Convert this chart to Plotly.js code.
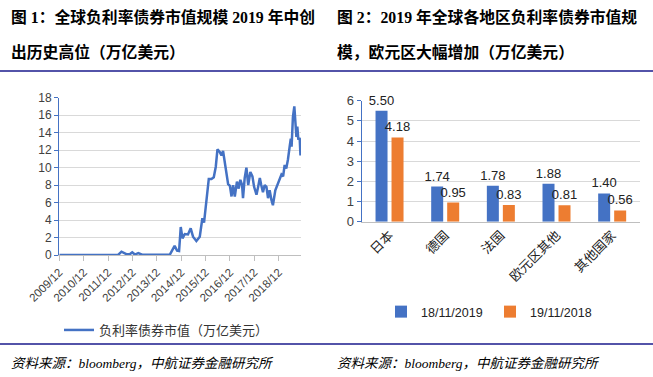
<!DOCTYPE html>
<html>
<head>
<meta charset="utf-8">
<script src="https://cdn.plot.ly/plotly-3.0.1.min.js"></script>
<style>
html,body{margin:0;padding:0;background:#fff;}
#chart{width:653px;height:377px;}
</style>
</head>
<body>
<div id="chart"></div>
<script>
// ---- Left chart data: negative-yield bond market value (trillion USD) ----
const lineDates = [
  "2009-12-01","2010-06-01","2011-01-01","2011-12-01","2012-04-30","2012-06-20","2012-09-01","2012-10-20",
  "2012-11-28","2013-01-06","2013-02-27","2013-04-25","2013-12-01","2014-06-13","2014-08-25","2014-10-01",
  "2014-10-31","2014-11-25","2014-12-21","2015-01-25","2015-03-13","2015-04-23","2015-05-28","2015-07-17",
  "2015-09-06","2015-10-15","2015-11-09","2015-12-15","2016-01-19","2016-02-28","2016-04-03","2016-05-03",
  "2016-05-28","2016-07-01","2016-07-27","2016-08-20","2016-10-10","2016-11-04","2016-12-01","2016-12-25",
  "2017-01-18","2017-02-12","2017-03-16","2017-04-12","2017-05-06","2017-06-01","2017-06-15","2017-07-10",
  "2017-08-05","2017-09-01","2017-10-03","2017-11-03","2017-11-28","2018-01-03","2018-01-28","2018-02-22",
  "2018-03-15","2018-04-10","2018-05-06","2018-06-01","2018-06-25","2018-07-19","2018-08-15","2018-09-06",
  "2018-10-12","2018-11-21","2018-12-15","2019-01-12","2019-02-06","2019-03-01","2019-03-25","2019-04-19",
  "2019-05-15","2019-06-01","2019-06-13","2019-07-03","2019-07-24","2019-08-12","2019-08-24","2019-09-07",
  "2019-09-22","2019-10-12","2019-10-24","2019-11-01"
];
const lineValues = [
  0,0,0,0,0,0.38,0.1,0.08,
  0.3,0.05,0.22,0.03,0,0.02,1.05,0.5,
  0.45,3.2,1.9,2.4,2.35,3.05,2.1,1.6,
  2.1,4.2,3.7,6.3,8.7,8.7,8.9,10.1,
  12.1,11.8,11.4,11.9,9.3,8.1,7.9,6.7,
  8.0,6.7,8.4,7.6,8.6,8.0,6.5,8.8,
  10.0,8.0,9.5,9.0,7.8,6.9,7.8,8.8,
  8.0,7.2,8.0,7.8,6.5,7.4,6.3,5.7,
  7.4,8.2,8.8,9.2,9.0,10.3,9.9,10.9,
  12.4,13.3,12.4,15.8,17.0,15.3,13.5,14.7,
  13.2,13.4,11.4,12.1
];
const lineName = "负利率债券市值（万亿美元）";

// ---- Right chart data ----
const regions = ["日本","德国","法国","欧元区其他","其他国家"];
const values2019 = [5.50, 1.74, 1.78, 1.88, 1.40];
const values2018 = [4.18, 0.95, 0.83, 0.81, 0.56];
const name2019 = "18/11/2019";
const name2018 = "19/11/2018";

// ---- Text ----
const titleLeft1 = "图 1：全球负利率债券市值规模 2019 年中创";
const titleLeft2 = "出历史高位（万亿美元）";
const titleRight1 = "图 2：2019 年全球各地区负利率债券市值规";
const titleRight2 = "模，欧元区大幅增加（万亿美元）";
const sourceText = "资料来源：bloomberg，中航证券金融研究所";

const W = 653, H = 377;
const px = v => v / W;
const py = v => 1 - v / H;

const BLUE = "#4472C4", ORANGE = "#ED7D31";
const tickFont = {family: "Liberation Sans, Arial, sans-serif", size: 12, color: "#404040"};
const cjkFont = "Noto Sans CJK SC, sans-serif";
const titleFont = {family: "Liberation Serif, Noto Sans CJK SC, serif", size: 15.8, color: "#000", weight: "bold"};
const srcFont = {family: "Liberation Serif, Noto Sans CJK SC, serif", size: 13.5, color: "#000", style: "italic"};
const barTextFont = {family: "Liberation Sans, Arial, sans-serif", size: 13, color: "#222"};

const traces = [
  {
    type: "scatter", mode: "lines", x: lineDates, y: lineValues, name: lineName,
    xaxis: "x", yaxis: "y", line: {color: BLUE, width: 2.5}, legend: "legend"
  },
  {
    type: "bar", x: regions, y: values2019, name: name2019, xaxis: "x2", yaxis: "y2",
    marker: {color: BLUE}, text: values2019.map(v => v.toFixed(2)), textposition: "outside",
    textfont: barTextFont, outsidetextfont: barTextFont, constraintext: "none",
    cliponaxis: false, legend: "legend2"
  },
  {
    type: "bar", x: regions, y: values2018, name: name2018, xaxis: "x2", yaxis: "y2",
    marker: {color: ORANGE}, text: values2018.map(v => v.toFixed(2)), textposition: "outside",
    textfont: barTextFont, outsidetextfont: barTextFont, constraintext: "none",
    cliponaxis: false, legend: "legend2"
  }
];

const layout = {
  width: W, height: H,
  margin: {l: 0, r: 0, t: 0, b: 0},
  paper_bgcolor: "#fff", plot_bgcolor: "#fff",
  showlegend: true,
  barmode: "group", bargap: 0.425, bargroupgap: 0.25,
  xaxis: {
    domain: [px(59.3), px(301)], anchor: "y", type: "date",
    range: ["2009-12-01", "2019-11-01"],
    tick0: "2009-12-01", dtick: "M12", tickformat: "%Y/%m", tickangle: -45,
    showgrid: false, showline: true, linecolor: "#bfbfbf", linewidth: 1,
    ticks: "outside", ticklen: 5, tickcolor: "#bfbfbf",
    tickfont: {family: "Liberation Sans, Arial, sans-serif", size: 11.5, color: "#404040"},
    zeroline: false, fixedrange: true
  },
  yaxis: {
    domain: [py(255), py(97.7)], anchor: "x", range: [0, 18], dtick: 2,
    showgrid: true, gridcolor: "#d9d9d9", gridwidth: 1,
    showline: true, linecolor: BLUE, linewidth: 1.2,
    ticks: "outside", ticklen: 4, tickcolor: BLUE,
    tickfont: tickFont, zeroline: false, fixedrange: true
  },
  xaxis2: {
    domain: [px(361.7), px(640)], anchor: "y2", type: "category",
    tickangle: -45, showgrid: false, showline: true, linecolor: "#bfbfbf", linewidth: 1,
    ticks: "", tickfont: {family: cjkFont, size: 13, color: "#222"},
    zeroline: false, fixedrange: true
  },
  yaxis2: {
    domain: [py(221.7), py(100.7)], anchor: "x2", range: [0, 6], dtick: 1,
    showgrid: true, gridcolor: "#d9d9d9", gridwidth: 1,
    showline: true, linecolor: BLUE, linewidth: 1.2,
    ticks: "outside", ticklen: 4, tickcolor: BLUE,
    tickfont: {family: "Liberation Sans, Arial, sans-serif", size: 13, color: "#404040"},
    zeroline: false, fixedrange: true
  },
  legend: {
    x: px(59), y: py(330), xanchor: "left", yanchor: "middle",
    orientation: "h", bgcolor: "rgba(0,0,0,0)",
    font: {family: cjkFont, size: 13, color: "#333"}, itemwidth: 30
  },
  legend2: {
    x: px(381), y: py(312), xanchor: "left", yanchor: "middle",
    orientation: "h", bgcolor: "rgba(0,0,0,0)",
    font: {family: "Liberation Sans, Arial, sans-serif", size: 12.5, color: "#222"},
    itemwidth: 30, traceorder: "normal", entrywidth: 64, entrywidthmode: "pixels"
  },
  shapes: [
    {type: "line", xref: "paper", yref: "paper", x0: 0, x1: 1, y0: py(71), y1: py(71),
     line: {color: "#1a1a8c", width: 1.5}},
    {type: "line", xref: "paper", yref: "paper", x0: 0, x1: 1, y0: py(344), y1: py(344),
     line: {color: "#1a1a8c", width: 1.5}}
  ],
  annotations: [
    {text: titleLeft1, x: px(9), y: py(17), xref: "paper", yref: "paper", xanchor: "left", yanchor: "middle", showarrow: false, font: titleFont},
    {text: titleLeft2, x: px(9), y: py(52), xref: "paper", yref: "paper", xanchor: "left", yanchor: "middle", showarrow: false, font: titleFont},
    {text: titleRight1, x: px(335), y: py(17), xref: "paper", yref: "paper", xanchor: "left", yanchor: "middle", showarrow: false, font: titleFont},
    {text: titleRight2, x: px(335), y: py(52), xref: "paper", yref: "paper", xanchor: "left", yanchor: "middle", showarrow: false, font: titleFont},
    {text: sourceText, x: px(9), y: py(363), xref: "paper", yref: "paper", xanchor: "left", yanchor: "middle", showarrow: false, font: srcFont},
    {text: sourceText, x: px(335), y: py(363), xref: "paper", yref: "paper", xanchor: "left", yanchor: "middle", showarrow: false, font: srcFont}
  ]
};

Plotly.newPlot("chart", traces, layout, {displayModeBar: false, staticPlot: true});
</script>
</body>
</html>
